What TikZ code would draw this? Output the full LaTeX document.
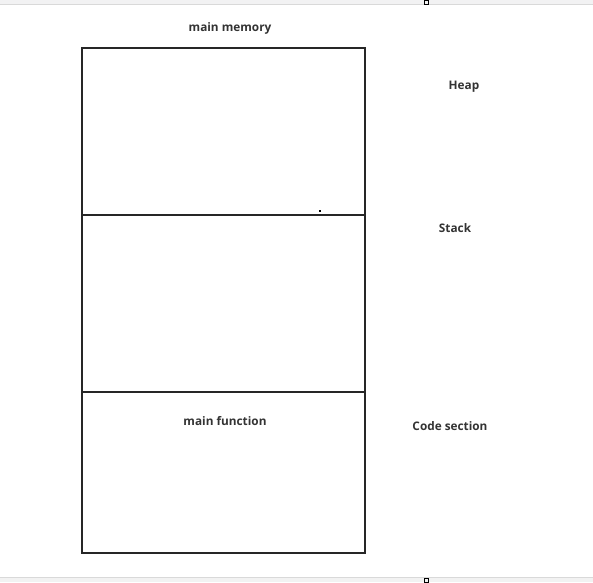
\documentclass[tikz,border=0pt]{standalone}
\usepackage{fontspec}
\setmainfont{Open Sans}
\usepackage{tikz}
\usetikzlibrary{positioning}

\begin{document}
\begin{tikzpicture}[
    x=1pt, y=-1pt,
    region/.style={draw=black!85, line width=1.6pt, minimum width=283pt, inner sep=0pt, outer sep=0pt},
    lbl/.style={font=\fontsize{11.8}{14}\selectfont\bfseries, text=black!80, inner sep=0pt}
]
\useasboundingbox (0,0) rectangle (593,582);
% window strips
\fill[blue!5!gray!10] (0,0) rectangle (593,4);
\draw[gray!30] (0,4) -- (593,4);
\fill[gray!10] (0,577) rectangle (593,582);
\draw[gray!30] (0,577) -- (593,577);
\draw[black, line width=0.8pt] (424,0) rectangle (428,4);
\draw[black, line width=0.8pt] (424,582) rectangle (428,578);

% memory regions
\node[region, minimum height=167pt, anchor=north west] (heap)  at (82,48)  {};
\node[region, minimum height=177pt, anchor=north west] (stack) at (82,215) {};
\node[region, minimum height=161pt, anchor=north west] (code)  at (82,392) {};
\fill[black] (319.2,210.2) rectangle (320.8,211.8);

\node[lbl] (mem)   at (230,28)  {main memory};
\node[lbl] (mainf) at (225,421) {main function};
\node[lbl] (heapl) at (464,87)  {Heap};
\node[lbl] (stackl) at (455,228) {Stack};
\node[lbl] (codel) at (450,426) {Code section};
\end{tikzpicture}
\end{document}
